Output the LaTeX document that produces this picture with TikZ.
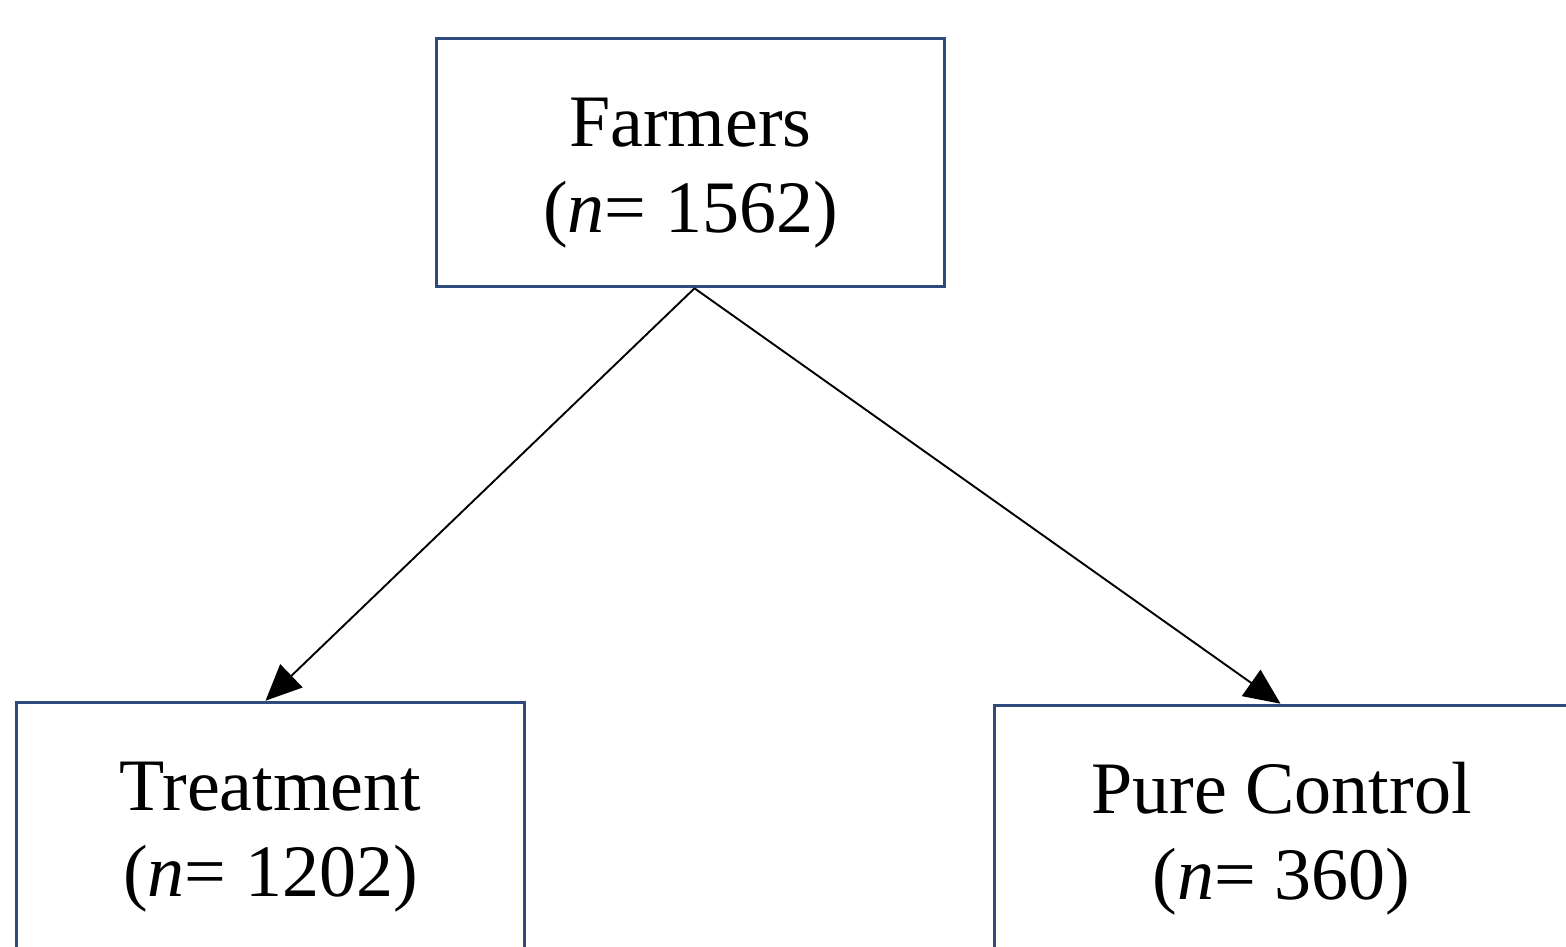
\documentclass[tikz,border=0pt]{standalone}
\usepackage{fontspec}
\setmainfont{Liberation Serif}
\usetikzlibrary{arrows.meta}
\definecolor{boxblue}{HTML}{2F4A7C}
\tikzset{
  groupbox/.style={draw=boxblue, line width=3.6pt, rectangle, align=center,
    minimum height=248pt, inner sep=0pt,
    font=\fontsize{74}{86}\selectfont},
  flow/.style={line width=1.9pt, -{Triangle[length=36pt,width=32pt]}}
}
\newcommand{\topstrut}{\rule{0pt}{70pt}}
\begin{document}
\begin{tikzpicture}[x=1pt,y=-1pt]
\useasboundingbox (0,0) rectangle (1566,947);
\clip (0,0) rectangle (1566,947);
\fill[white] (0,0) rectangle (1566,947);
\node[groupbox, minimum width=508pt] (farm) at (690.5,162.5) {\topstrut Farmers\\(\textit{n}= 1562)};
\node[groupbox, minimum width=508pt] (treat) at (270.5,826.5) {\topstrut Treatment\\(\textit{n}= 1202)};
\node[groupbox, minimum width=574pt] (ctrl) at (1281.5,829.5) {\topstrut Pure Control\\(\textit{n}= 360)};
\draw[flow] ([xshift=4pt]farm.south) -- ([xshift=-5pt]treat.north);
\draw[flow] ([xshift=4pt]farm.south) -- ([xshift=-1pt]ctrl.north);
\end{tikzpicture}
\end{document}
